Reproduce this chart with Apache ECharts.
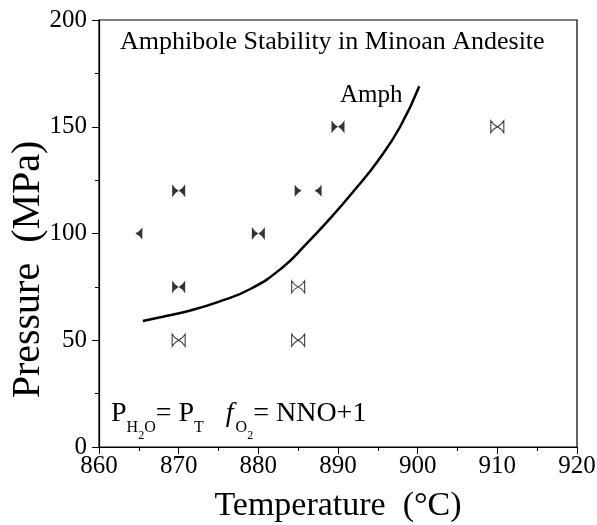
<!DOCTYPE html>
<html lang="en">
<head>
    <meta charset="UTF-8">
    <title>Amphibole Stability</title>
    <style>
        html, body { margin: 0; padding: 0; background: #fff; }
        #main { width: 597px; height: 525px; }
    </style>
    <script src="https://cdn.jsdelivr.net/npm/echarts@6/dist/echarts.min.js"></script>
</head>
<body>
    <div id="main"></div>
    <script>
        // experiment runs (T in degC, P in MPa)
        var filledRuns = [[870, 120], [880, 100], [870, 75], [890, 150]];
        var openRuns = [[870, 50], [885, 75], [885, 50], [910, 150]];
        var leftHalfRuns = [[885, 120]];
        var rightHalfRuns = [[865, 100], [887.5, 120]];

        // amphibole stability curve
        var amphCurve = [[865.5, 59], [868, 61], [871, 63.5], [875, 68], [879, 74], [883, 84],
            [886, 95], [889, 107], [892, 120], [895, 134], [897.8, 150], [900.2, 169]];

        var xTicks = [860, 870, 880, 890, 900, 910, 920];
        var yTicks = [0, 50, 100, 150, 200];

        var serifName = 'Liberation Serif';
        var serif = '"Liberation Serif", "DejaVu Serif", serif';
        var bowtie = 'path://M0,0Q4,4.5 10,6.5Q4,8.5 0,13Z M20,0Q16,4.5 10,6.5Q16,8.5 20,13Z';
        var leftTri = 'path://M0,0Q4,4.5 10,6.5Q4,8.5 0,13Z';
        var rightTri = 'path://M10,0Q6,4.5 0,6.5Q6,8.5 10,13Z';

        // the P(H2O) = P(T), fO2 = NNO+1 line, laid out piece by piece
        var noteParts = [
            { t: 'P', lvl: 0 }, { t: 'H', lvl: 1 }, { t: '2', lvl: 2 }, { t: 'O', lvl: 1 },
            { t: '= P', lvl: 0 }, { t: 'T', lvl: 1 }, { gap: 22 },
            { t: 'f', lvl: 0, it: true }, { t: 'O', lvl: 1 }, { t: '2', lvl: 2 },
            { t: '= NNO+1', lvl: 0 }
        ];
        var levelSize = [28, 16, 12];
        var levelDy = [0, 14, 22];

        var measureCtx = document.createElement('canvas').getContext('2d');
        function noteGraphic(x0, yMid) {
            var x = x0;
            var items = [];
            noteParts.forEach(function (p) {
                if (p.gap) { x += p.gap; return; }
                var font = (p.it ? 'italic ' : '') + levelSize[p.lvl] + 'px "' + serifName + '"';
                measureCtx.font = font;
                var w = measureCtx.measureText(p.t).width;
                items.push({
                    type: 'text', x: x, y: yMid + levelDy[p.lvl],
                    style: { text: p.t, font: font, fill: '#000', verticalAlign: 'middle', align: 'left' }
                });
                x += w + (p.it ? 2 : 0);
            });
            return items;
        }

        var chart = echarts.init(document.getElementById('main'));

        var option = {
            backgroundColor: '#fff',
            animation: false,
            grid: {
                left: 99, right: 20, top: 20, bottom: 78,
                show: true, borderColor: '#000', borderWidth: 1.2,
                containLabel: false,
                outerBoundsMode: 'none'
            },
            xAxis: {
                type: 'value',
                min: xTicks[0], max: xTicks[xTicks.length - 1], interval: 10,
                name: 'Temperature  (\u00B0C)',
                nameLocation: 'middle', nameGap: 42,
                nameTextStyle: { fontFamily: serif, fontSize: 34, color: '#000' },
                axisLine: { lineStyle: { color: '#000', width: 1.2 } },
                axisTick: { inside: false, length: 7, lineStyle: { color: '#000' } },
                minorTick: { show: true, splitNumber: 2, length: 4, lineStyle: { color: '#000' } },
                axisLabel: { fontFamily: serif, fontSize: 25, color: '#000', margin: 7 },
                splitLine: { show: false }
            },
            yAxis: {
                type: 'value',
                min: yTicks[0], max: yTicks[yTicks.length - 1], interval: 50,
                name: 'Pressure  (MPa)',
                nameLocation: 'middle', nameGap: 51, nameRotate: 90,
                nameMoveOverlap: false,
                nameTextStyle: { fontFamily: serif, fontSize: 40, color: '#000', padding: [0, 72, 0, 0] },
                axisLine: { lineStyle: { color: '#000', width: 1.2 } },
                axisTick: { inside: false, length: 7, lineStyle: { color: '#000' } },
                minorTick: { show: true, splitNumber: 2, length: 4, lineStyle: { color: '#000' } },
                axisLabel: { fontFamily: serif, fontSize: 25, color: '#000', margin: 12 },
                splitLine: { show: false }
            },
            graphic: [
                {
                    type: 'text', left: 120, top: 29,
                    style: {
                        text: 'Amphibole Stability in Minoan Andesite',
                        font: '26px ' + serif, fill: '#000'
                    }
                },
                {
                    type: 'text', left: 340, top: 83,
                    style: { text: 'Amph', font: '25px ' + serif, fill: '#000' }
                }
            ].concat(noteGraphic(111, 414)),
            series: [
                {
                    name: 'Amph',
                    type: 'line',
                    data: amphCurve,
                    smooth: true,
                    symbol: 'none',
                    lineStyle: { color: '#000', width: 2.5 },
                    z: 2
                },
                {
                    name: 'amphibole present',
                    type: 'scatter',
                    data: filledRuns,
                    symbol: bowtie,
                    symbolSize: [13, 13],
                    itemStyle: { color: '#000' },
                    z: 3
                },
                {
                    name: 'amphibole absent',
                    type: 'scatter',
                    data: openRuns,
                    symbol: bowtie,
                    symbolSize: [13, 12],
                    itemStyle: { color: '#fff', borderColor: '#000', borderWidth: 1 },
                    z: 3
                },
                {
                    name: 'left half',
                    type: 'scatter',
                    data: leftHalfRuns,
                    symbol: leftTri,
                    symbolSize: [7, 12],
                    itemStyle: { color: '#000' },
                    z: 3
                },
                {
                    name: 'right half',
                    type: 'scatter',
                    data: rightHalfRuns,
                    symbol: rightTri,
                    symbolSize: [7, 12],
                    itemStyle: { color: '#000' },
                    z: 3
                }
            ]
        };

        chart.setOption(option);
    </script>
</body>
</html>
